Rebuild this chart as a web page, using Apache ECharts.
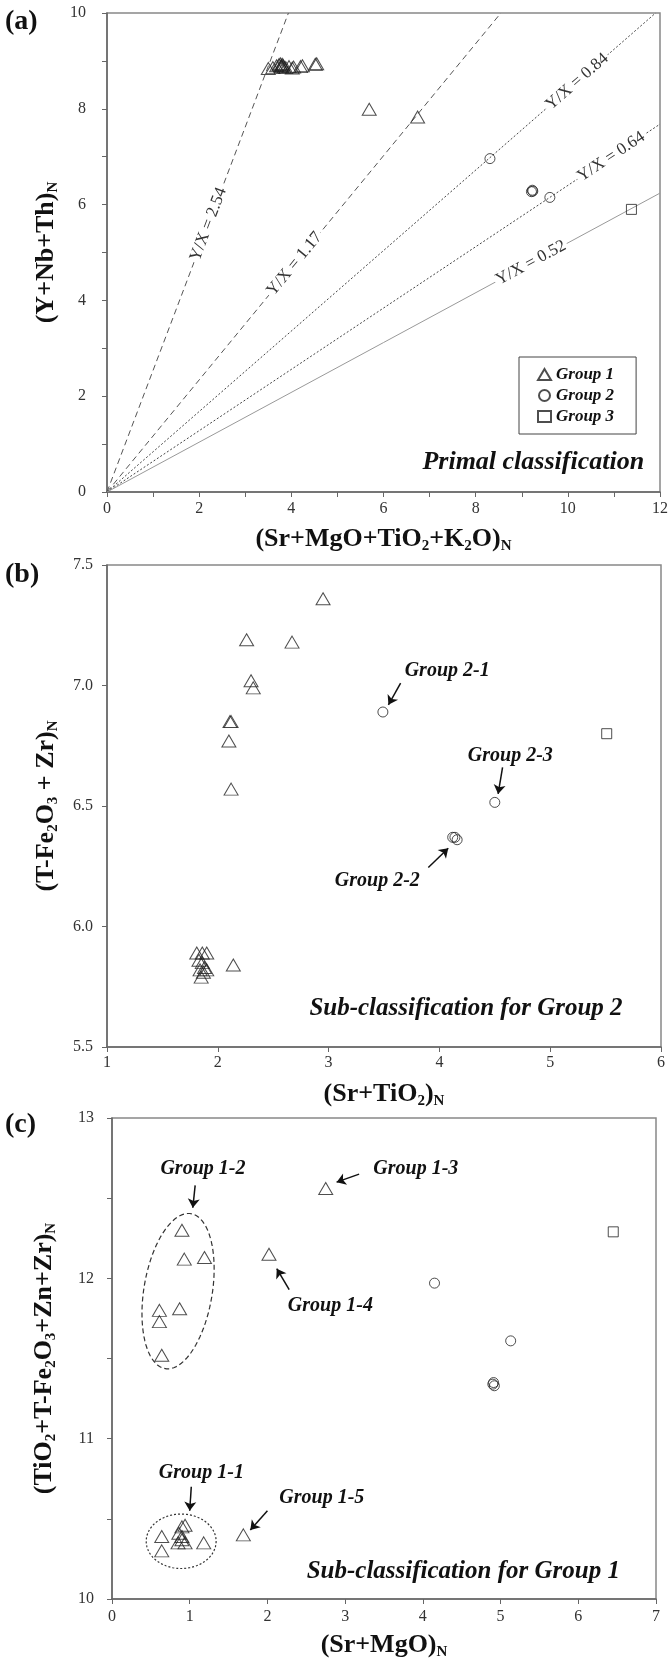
<!DOCTYPE html>
<html>
<head>
<meta charset="utf-8">
<script src="https://cdn.jsdelivr.net/npm/echarts@6/dist/echarts.min.js"></script>
<style>html,body{margin:0;padding:0;background:#fff}#c{width:670px;height:1659px}</style>
</head>
<body>
<div id="c"></div>
<script>
// ---------------- DATA ----------------
// Panel (a): (Sr+MgO+TiO2+K2O)N vs (Y+Nb+Th)N
const aGroup1 = [[3.50,8.84],[3.60,8.86],[3.68,8.90],[3.73,8.92],[3.76,8.94],[3.78,8.90],[3.79,8.88],[3.80,8.93],[3.82,8.91],[3.84,8.87],[3.88,8.86],[3.95,8.88],[4.02,8.85],[4.05,8.87],[4.20,8.88],[4.24,8.90],[4.52,8.93],[4.55,8.94],[5.69,7.99],[6.74,7.83]];
const aGroup2 = [[8.31,6.96],[9.21,6.27],[9.23,6.30],[9.24,6.28],[9.61,6.15]];
const aGroup3 = [[11.38,5.90]];
const aRatios = [2.54, 1.17, 0.84, 0.64, 0.52];
const aRatioText = ['Y/X = 2.54', 'Y/X = 1.17', 'Y/X = 0.84', 'Y/X = 0.64', 'Y/X = 0.52'];
const aRatioLabelX = [2.2, 4.07, 10.2, 10.94, 9.2];
const aXRange = [0, 12], aYRange = [0, 10];

// Panel (b): (Sr+TiO2)N vs (T-Fe2O3 + Zr)N
const bGroup1 = [[2.95,7.36],[2.26,7.19],[2.67,7.18],[2.30,7.02],[2.32,6.99],[2.11,6.85],[2.12,6.85],[2.10,6.77],[2.12,6.57],[2.14,5.84],[1.81,5.89],[1.86,5.89],[1.90,5.89],[1.83,5.86],[1.86,5.85],[1.88,5.83],[1.84,5.82],[1.87,5.81],[1.90,5.82],[1.85,5.79]];
const bGroup2 = [[3.49,6.89],[4.12,6.37],[4.14,6.37],[4.16,6.36],[4.50,6.515]];
const bGroup3 = [[5.51,6.80]];
const bXRange = [1, 6], bYRange = [5.5, 7.5];

// Panel (c): (Sr+MgO)N vs (TiO2+T-Fe2O3+Zn+Zr)N
const cGroup1 = [[2.75,12.56],[0.90,12.30],[0.93,12.12],[1.19,12.13],[2.02,12.15],[0.61,11.80],[0.61,11.73],[0.87,11.81],[0.64,11.52],[0.64,10.39],[0.64,10.30],[0.86,10.41],[0.90,10.45],[0.94,10.46],[0.90,10.39],[0.85,10.35],[0.94,10.35],[0.90,10.37],[1.18,10.35],[1.69,10.40]];
const cGroup2 = [[4.15,11.97],[5.13,11.61],[4.90,11.34],[4.91,11.35],[4.92,11.33]];
const cGroup3 = [[6.45,12.29]];
const cXRange = [0, 7], cYRange = [10, 13];

// Annotations (data coordinates)
const aTitle = {text:'Primal classification', x:9.25, y:0.63};
const bNotes = [{text:'Group 2-1', x:4.07, y:7.06},{text:'Group 2-3', x:4.64, y:6.71},{text:'Group 2-2', x:3.44, y:6.19}];
const bArrows = [[3.65,7.01,3.54,6.92],[4.57,6.66,4.53,6.55],[3.90,6.245,4.08,6.325]];
const bTitle = {text:'Sub-classification for Group 2', x:4.24, y:5.66};
const cNotes = [{text:'Group 1-2', x:1.17, y:12.68},{text:'Group 1-3', x:3.91, y:12.68},{text:'Group 1-4', x:2.81, y:11.83},{text:'Group 1-1', x:1.15, y:10.79},{text:'Group 1-5', x:2.70, y:10.63}];
const cArrows = [[1.07,12.58,1.04,12.44],[3.18,12.65,2.89,12.60],[2.28,11.93,2.12,12.06],[1.02,10.70,1.00,10.55],[2.0,10.55,1.78,10.43]];
const cTitle = {text:'Sub-classification for Group 1', x:4.52, y:10.17};
const cEllipses = [{x:0.85, y:11.92, rx:0.44, ry:0.49, rot:9.4, dash:[5,3]},{x:0.89, y:10.36, rx:0.45, ry:0.17, rot:0, dash:[2,2]}];

// ---------------- STYLE / LAYOUT ----------------
const F = '"Liberation Serif","Times New Roman",serif';
const nameRich = {
  t:{fontFamily:F, fontSize:26, fontWeight:'bold', color:'#111', lineHeight:30},
  s:{fontFamily:F, fontSize:15, fontWeight:'bold', color:'#111', lineHeight:11, verticalAlign:'bottom'}
};
const evenOnly = v => (Math.round(v) % 2 === 0 ? String(Math.round(v)) : '');
const oneDec = v => v.toFixed(1);
const intOnly = v => (Math.abs(v - Math.round(v)) < 1e-6 ? String(Math.round(v)) : '');
const plain = v => String(v);

function mkAxis(dim, gi, range, interval, fmt, name, nameGap, margin) {
  return {
    type:'value', gridIndex:gi, min:range[0], max:range[1], interval:interval,
    position: dim === 'x' ? 'bottom' : 'left',
    name:name, nameLocation:'middle', nameGap:nameGap, nameRotate: dim === 'y' ? 90 : 0,
    nameMoveOverlap:false,
    nameTextStyle:{rich:nameRich},
    axisLine:{show:true, onZero:false, lineStyle:{color:'#666', width:1.5}},
    axisTick:{show:true, inside:false, length:5, lineStyle:{color:'#666', width:1}},
    minorTick:{show:false},
    axisLabel:{show:true, margin:margin, fontFamily:F, fontSize:16, color:'#333', formatter:fmt, showMinLabel:true, showMaxLabel:true, hideOverlap:false},
    splitLine:{show:false}
  };
}

function scatter(gi, name, symbol, size, data) {
  return {type:'scatter', name:name, xAxisIndex:gi, yAxisIndex:gi, symbol:symbol, symbolSize:size, data:data,
    itemStyle:{color:'rgba(255,255,255,0)', borderColor:'#222', borderWidth:1}, silent:true, z:5};
}

const gridBase = {show:true, borderColor:'#888', borderWidth:1.5, containLabel:false, outerBoundsMode:'none'};
const baseOption = {
  animation:false,
  backgroundColor:'#fff',
  grid:[
    Object.assign({left:107, top:13, width:553, height:479}, gridBase),
    Object.assign({left:107, top:565, width:554, height:482}, gridBase),
    Object.assign({left:112, top:1118, width:544, height:481}, gridBase)
  ],
  xAxis:[
    mkAxis('x', 0, aXRange, 1, evenOnly, '{t|(Sr+MgO+TiO}{s|2}{t|+K}{s|2}{t|O)}{s|N}', 32, 9),
    mkAxis('x', 1, bXRange, 1, plain, '{t|(Sr+TiO}{s|2}{t|)}{s|N}', 32, 8),
    mkAxis('x', 2, cXRange, 1, plain, '{t|(Sr+MgO)}{s|N}', 31, 10)
  ],
  yAxis:[
    mkAxis('y', 0, aYRange, 1, evenOnly, '{t|(Y+Nb+Th)}{s|N}', 46, 21),
    mkAxis('y', 1, bYRange, 0.5, oneDec, '{t|(T-Fe}{s|2}{t|O}{s|3}{t| + Zr)}{s|N}', 46, 14),
    mkAxis('y', 2, cYRange, 0.5, intOnly, '{t|(TiO}{s|2}{t|+T-Fe}{s|2}{t|O}{s|3}{t|+Zn+Zr)}{s|N}', 53, 18)
  ],
  series:[]
};

const chart = echarts.init(document.getElementById('c'), null, {renderer:'canvas'});
chart.setOption(baseOption);
const px = (gi, p) => chart.convertToPixel({gridIndex:gi}, p);

// ratio lines in panel (a)
const ratioDash = [[6,4],[6,4],[2,2],[2,2],'solid'];
const ratioColor = ['#555','#555','#444','#444','#999'];
const ratioSeries = aRatios.map((r, i) => {
  const xe = Math.min(aXRange[1], aYRange[1] / r);
  const p0 = px(0, [0, 0]), p1 = px(0, [1, r]);
  const deg = Math.atan2(p0[1] - p1[1], p1[0] - p0[0]) * 180 / Math.PI;
  return {
    type:'line', xAxisIndex:0, yAxisIndex:0, data:[[0,0],[xe, r * xe]], symbol:'none', silent:true, z:2,
    lineStyle:{color:ratioColor[i], width:1, type:ratioDash[i]},
    markPoint:{symbol:'circle', symbolSize:1, itemStyle:{color:'rgba(0,0,0,0)'}, silent:true,
      data:[{coord:[aRatioLabelX[i], r * aRatioLabelX[i]],
        label:{show:true, position:'inside', formatter:aRatioText[i], rotate:deg, fontFamily:F, fontSize:17, color:'#333', backgroundColor:'#fff', padding:[0,2]}}]}
  };
});

function noteSeries(gi, notes, arrows, title, titleSize) {
  const pts = notes.map(n => ({coord:[n.x, n.y], label:{show:true, position:'inside', formatter:n.text, fontFamily:F, fontSize:20, fontStyle:'italic', fontWeight:'bold', color:'#111'}}));
  if (title) pts.push({coord:[title.x, title.y], label:{show:true, position:'inside', formatter:title.text, fontFamily:F, fontSize:titleSize, fontStyle:'italic', fontWeight:'bold', color:'#111'}});
  const s = {type:'scatter', name:'', xAxisIndex:gi, yAxisIndex:gi, data:[], silent:true, z:6,
    markPoint:{symbol:'circle', symbolSize:1, itemStyle:{color:'rgba(0,0,0,0)'}, silent:true, data:pts}};
  if (arrows && arrows.length) {
    s.markLine = {silent:true, symbol:['none','arrow'], symbolSize:9, label:{show:false},
      lineStyle:{color:'#111', width:1.5, type:'solid'},
      data: arrows.map(a => [{coord:[a[0], a[1]]}, {coord:[a[2], a[3]]}])};
  }
  return s;
}

function ellipsePoly(gi, e) {
  const c = px(gi, [e.x, e.y]);
  const ux = px(gi, [e.x + e.rx, e.y])[0] - c[0];
  const uy = c[1] - px(gi, [e.x, e.y + e.ry])[1];
  const a = e.rot * Math.PI / 180;
  const pts = [];
  for (let i = 0; i < 90; i++) {
    const t = i / 90 * 2 * Math.PI;
    const X = ux * Math.cos(t), Y = uy * Math.sin(t);
    pts.push([c[0] + X * Math.cos(a) - Y * Math.sin(a), c[1] + X * Math.sin(a) + Y * Math.cos(a)]);
  }
  return {type:'polygon', shape:{points:pts}, silent:true, z:10,
    style:{fill:'none', stroke:'#333', lineWidth:1.2, lineDash:e.dash}};
}

const letter = (t, top) => ({type:'text', left:5, top:top, silent:true,
  style:{text:t, fontFamily:F, fontSize:28, fontWeight:'bold', fill:'#111'}});

chart.setOption({
  legend:{
    orient:'vertical', left:519, top:357, selectedMode:false,
    data:[{name:'Group 1', icon:'triangle'},{name:'Group 2', icon:'circle'},{name:'Group 3', icon:'rect'}],
    itemWidth:13, itemHeight:11, itemGap:4, padding:[9,22,9,18],
    borderColor:'#444', borderWidth:1, backgroundColor:'#fff',
    textStyle:{fontFamily:F, fontSize:17, fontStyle:'italic', fontWeight:'bold', color:'#111'}
  },
  series:[].concat(
    ratioSeries,
    [scatter(0, 'Group 1', 'triangle', [14,12], aGroup1),
     scatter(0, 'Group 2', 'circle', 10, aGroup2),
     scatter(0, 'Group 3', 'rect', 10, aGroup3),
     scatter(1, 'Group 1', 'triangle', [14,12], bGroup1),
     scatter(1, 'Group 2', 'circle', 10, bGroup2),
     scatter(1, 'Group 3', 'rect', 10, bGroup3),
     scatter(2, 'Group 1', 'triangle', [14,12], cGroup1),
     scatter(2, 'Group 2', 'circle', 10, cGroup2),
     scatter(2, 'Group 3', 'rect', 10, cGroup3),
     noteSeries(0, [], [], aTitle, 26),
     noteSeries(1, bNotes, bArrows, bTitle, 25),
     noteSeries(2, cNotes, cArrows, cTitle, 25)]
  ),
  graphic:[letter('(a)', 8), letter('(b)', 561), letter('(c)', 1111)].concat(cEllipses.map(e => ellipsePoly(2, e)))
});
</script>
</body>
</html>
